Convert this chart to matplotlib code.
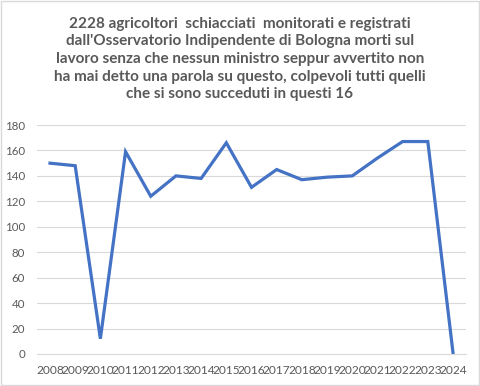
import matplotlib
matplotlib.use("Agg")
import matplotlib.pyplot as plt
from matplotlib.patches import Rectangle

years = ["2008", "2009", "2010", "2011", "2012", "2013", "2014", "2015", "2016",
         "2017", "2018", "2019", "2020", "2021", "2022", "2023", "2024"]
values = [150, 148, 12, 159, 124, 140, 138, 166, 131, 145, 137, 139, 140, 154, 167, 167, 1]
yticks = [0, 20, 40, 60, 80, 100, 120, 140, 160, 180]
title = ("2228 agricoltori  schiacciati  monitorati e registrati\n"
         "dall'Osservatorio Indipendente di Bologna morti sul\n"
         "lavoro senza che nessun ministro seppur avvertito non\n"
         "ha mai detto una parola su questo, colpevoli tutti quelli\n"
         "che si sono succeduti in questi 16")

plt.rcParams['font.family'] = ['Lato', 'DejaVu Sans']
fig = plt.figure(figsize=(4.8, 3.86), dpi=100)
ax = fig.add_axes([37.4/480, 1-354/386, (465.6-37.4)/480, (354-125)/386])

x = list(range(len(years)))
ax.plot(x, values, color='#4472C4', linewidth=2.3, solid_joinstyle='miter')
ax.set_xlim(-0.5, len(years)-0.5)
ax.set_ylim(0, 180)
ax.set_yticks(yticks)
ax.set_xticks(x)
ax.set_xticklabels(years)
ax.tick_params(axis='y', length=0, labelsize=8.3, colors='#595959', pad=9)
ax.tick_params(axis='x', length=0, labelsize=8.6, colors='#595959', pad=8)
ax.grid(axis='y', color='#d9d9d9', linewidth=0.8)
ax.set_axisbelow(True)
for s in ['top', 'right', 'left']:
    ax.spines[s].set_visible(False)
ax.spines['bottom'].set_color('#d9d9d9')

fig.text(0.5, 1-59/386, title, ha='center', va='center', fontsize=11.0,
         fontweight='bold', color='#595959', linespacing=1.33)
fig.add_artist(Rectangle((0.002, 0.002), 0.996, 0.996, transform=fig.transFigure,
                         fill=False, edgecolor='#d9d9d9', linewidth=1))
fig.savefig('out.png', dpi=100)
